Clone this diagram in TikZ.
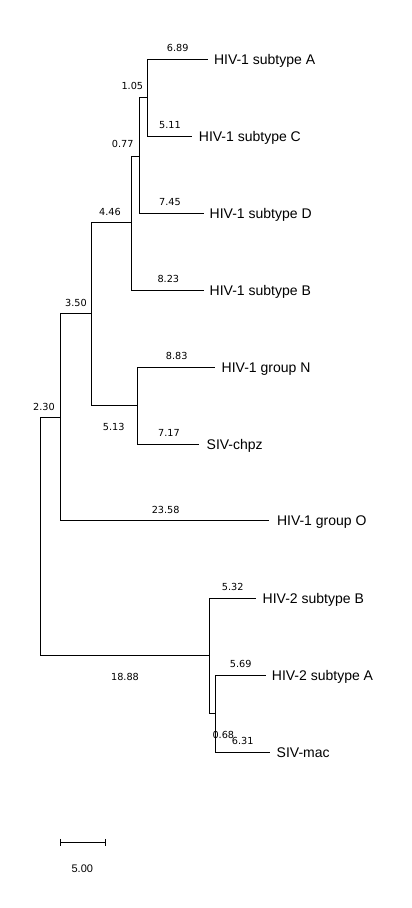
\documentclass[tikz,border=0pt]{standalone}
\usepackage{fontspec}
\setmainfont{Liberation Sans}
\newfontfamily\numfont{DejaVu Sans}
\begin{document}
\begin{tikzpicture}[x=1pt,y=-1pt,
  branch/.style={line width=1pt},
  leaf/.style={anchor=base west,inner sep=0pt,yshift=-5pt,font=\fontsize{14}{16}\selectfont},
  blen/.style={inner sep=0pt,font=\numfont\fontsize{9.7}{11}\selectfont},
  scalelbl/.style={inner sep=0pt,font=\fontsize{11}{13}\selectfont}]
\useasboundingbox[fill=white] (0,0) rectangle (412,908);
% leaf tips
\coordinate (tA) at (208.3,59.3);
\coordinate (tC) at (191.7,136.7);
\coordinate (tD) at (204,213.3);
\coordinate (tB) at (204,290);
\coordinate (tN) at (215,367.3);
\coordinate (tS) at (199,444.3);
\coordinate (tO) at (269.3,520.7);
\coordinate (tB2) at (256,598.3);
\coordinate (tA2) at (265.7,675.3);
\coordinate (tM) at (270,752.3);
% internal nodes
\coordinate (nAC) at (147.7,97.7);
\coordinate (nACD) at (139,156);
\coordinate (nHIVM) at (131.3,222.3);
\coordinate (nNS) at (137.3,405.3);
\coordinate (n1) at (91.3,313.3);
\coordinate (n1O) at (60.3,417.3);
\coordinate (nH2b) at (215.3,713.3);
\coordinate (nH2) at (209.3,655.3);
\coordinate (root) at (40.7,536.3);
% branches
\draw[branch] (nAC) |- (tA);
\draw[branch] (nAC) |- (tC);
\draw[branch] (nACD) |- (nAC);
\draw[branch] (nACD) |- (tD);
\draw[branch] (nHIVM) |- (nACD);
\draw[branch] (nHIVM) |- (tB);
\draw[branch] (n1) |- (nHIVM);
\draw[branch] (n1) |- (nNS);
\draw[branch] (nNS) |- (tN);
\draw[branch] (nNS) |- (tS);
\draw[branch] (n1O) |- (n1);
\draw[branch] (n1O) |- (tO);
\draw[branch] (root) |- (n1O);
\draw[branch] (root) |- (nH2);
\draw[branch] (nH2) |- (tB2);
\draw[branch] (nH2) |- (nH2b);
\draw[branch] (nH2b) |- (tA2);
\draw[branch] (nH2b) |- (tM);
% leaf labels
\node[leaf] (lA) at ([xshift=5.5pt]tA) {HIV-1 subtype A};
\node[leaf] (lC) at ([xshift=7pt]tC) {HIV-1 subtype C};
\node[leaf] (lD) at ([xshift=5.5pt]tD) {HIV-1 subtype D};
\node[leaf] (lB) at ([xshift=5.5pt]tB) {HIV-1 subtype B};
\node[leaf] (lN) at ([xshift=6.5pt]tN) {HIV-1 group N};
\node[leaf] (lS) at ([xshift=7.5pt]tS) {SIV-chpz};
\node[leaf] (lO) at ([xshift=7.5pt]tO) {HIV-1 group O};
\node[leaf] (lB2) at ([xshift=6.5pt]tB2) {HIV-2 subtype B};
\node[leaf] (lA2) at ([xshift=6pt]tA2) {HIV-2 subtype A};
\node[leaf] (lM) at ([xshift=6.5pt]tM) {SIV-mac};
% branch lengths
\node[blen] (b1) at (177.7,48.3) {6.89};
\node[blen] (b2) at (132.3,86) {1.05};
\node[blen] (b3) at (170,125) {5.11};
\node[blen] (b4) at (122.7,144) {0.77};
\node[blen] (b5) at (170,202.3) {7.45};
\node[blen] (b6) at (110,211.7) {4.46};
\node[blen] (b7) at (168.3,279) {8.23};
\node[blen] (b8) at (76,302.7) {3.50};
\node[blen] (b9) at (176.7,356) {8.83};
\node[blen] (b10) at (113.7,426.7) {5.13};
\node[blen] (b11) at (169,433.3) {7.17};
\node[blen] (b12) at (44,406.7) {2.30};
\node[blen] (b13) at (165.7,510) {23.58};
\node[blen] (b14) at (232.7,586.7) {5.32};
\node[blen] (b15) at (240.7,664) {5.69};
\node[blen] (b16) at (125,677) {18.88};
\node[blen] (b17) at (223.3,735) {0.68};
\node[blen] (b18) at (242.7,741.3) {6.31};
% scale bar
\coordinate (sbL) at (60.7,842.3);
\coordinate (sbR) at (105.3,842.3);
\draw[branch] (sbL) -- (sbR);
\draw[branch] ([yshift=3.5pt]sbL) -- ([yshift=-3.5pt]sbL);
\draw[branch] ([yshift=3.5pt]sbR) -- ([yshift=-3.5pt]sbR);
\node[scalelbl] (sblbl) at (82.3,868.3) {5.00};
\end{tikzpicture}
\end{document}
